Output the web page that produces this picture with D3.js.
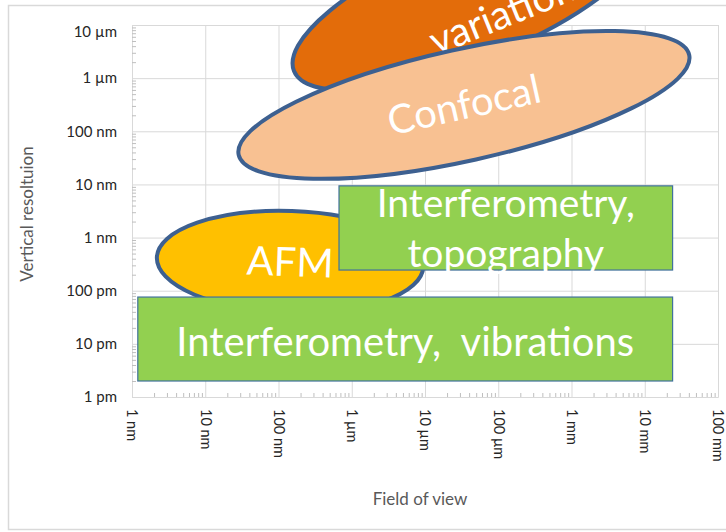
<!DOCTYPE html>
<html>
<head>
<meta charset="utf-8">
<script src="https://cdn.jsdelivr.net/npm/d3@7"></script>
<style>
  body { margin: 0; background: #fff; }
</style>
</head>
<body>
<script>
// field of view ticks, in metres
const xTicks = [1e-9, 1e-8, 1e-7, 1e-6, 1e-5, 1e-4, 1e-3, 1e-2, 1e-1]
const xTickLabels = ["1 nm", "10 nm", "100 nm", "1 µm", "10 µm", "100 µm", "1 mm", "10 mm", "100 mm"]

// vertical resolution ticks, in metres
const yTicks = [1e-12, 1e-11, 1e-10, 1e-9, 1e-8, 1e-7, 1e-6, 1e-5]
const yTickLabels = ["1 pm", "10 pm", "100 pm", "1 nm", "10 nm", "100 nm", "1 µm", "10 µm"]

// rectangular regions: field of view range, resolution range (metres)
const boxLines = [["Interferometry,", "topography"], ["Interferometry,  vibrations"]]
const boxFov = [[6.7e-7, 2.4e-2], [1.2e-9, 2.4e-2]]
const boxRes = [[2.45e-10, 9.4e-9], [2e-12, 7.6e-11]]

// elliptic regions: centre (fov, resolution) and half width / half height in decades
const blobNames = ["variation", "Confocal", "AFM"]
const blobCentre = [[4.1e-5, 2.96e-5], [3.4e-5, 3.13e-7], [1.44e-7, 3.47e-10]]
const blobHalf = [[2.59, 1.13], [3.15, 1.05], [1.82, 0.96]]

// look
const blobFill = ["#e36c0a", "#f8c192", "#ffc000"]
const blobTilt = [-22, -12.5, 2]
const outline = "#3d6090"
const gridColor = "#d9d9d9"

const width = 726
const height = 532

const x = d3.scaleLog().domain([1e-9, 1e-1]).range([132, 718])
const y = d3.scaleLog().domain([1e-12, 1e-5]).range([397, 25])

const minors = (lo, hi) => {
  let out = []
  for (let e = lo; e < hi; e++) {
    for (let k = 2; k < 10; k++) out.push(k * Math.pow(10, e))
  }
  return out
}

const svg = d3.select("body").append("svg")
  .attr("width", width)
  .attr("height", height)
  .style("font-family", "Lato, 'Open Sans', sans-serif")

// chart frame
svg.append("rect")
  .attr("x", 8.5).attr("y", 5.5)
  .attr("width", 760).attr("height", 524)
  .attr("fill", "#fff")
  .attr("stroke", gridColor)
  .attr("stroke-width", 1.5)

// y axis with gridlines
const yAxis = svg.append("g")
  .attr("transform", `translate(${x.range()[0]},0)`)
  .call(d3.axisLeft(y)
    .tickValues(yTicks)
    .tickFormat((d, i) => yTickLabels[i])
    .tickSize(-(x.range()[1] - x.range()[0]))
    .tickPadding(15))
  .attr("font-family", null)
yAxis.select(".domain").attr("stroke", gridColor)
yAxis.selectAll(".tick line").attr("stroke", gridColor)
yAxis.selectAll(".tick text")
  .attr("fill", "#262626")
  .style("font-size", "15px")
  .attr("y", d => Math.max(0, y.range()[1] + 7 - y(d)))

// x axis with gridlines
const xAxis = svg.append("g")
  .attr("transform", `translate(0,${y.range()[0]})`)
  .call(d3.axisBottom(x)
    .tickValues(xTicks)
    .tickFormat((d, i) => xTickLabels[i])
    .tickSize(-(y.range()[0] - y.range()[1])))
  .attr("font-family", null)
xAxis.select(".domain").attr("stroke", gridColor)
xAxis.selectAll(".tick line").attr("stroke", gridColor)
xAxis.selectAll(".tick text")
  .attr("fill", "#262626")
  .style("font-size", "14.5px")
  .attr("transform", "rotate(90)")
  .attr("text-anchor", "start")
  .attr("x", 12)
  .attr("y", 0)
  .attr("dy", "0.35em")

// minor ticks, inside the plot
const yMinor = svg.append("g")
  .attr("transform", `translate(${x.range()[0]},0)`)
  .call(d3.axisLeft(y).tickValues(minors(-12, -5)).tickSize(-4).tickFormat(""))
yMinor.select(".domain").remove()
yMinor.selectAll("line").attr("stroke", "#bfbfbf")

const xMinor = svg.append("g")
  .attr("transform", `translate(0,${y.range()[0]})`)
  .call(d3.axisBottom(x).tickValues(minors(-9, -1)).tickSize(-4).tickFormat(""))
xMinor.select(".domain").remove()
xMinor.selectAll("line").attr("stroke", "#bfbfbf")

// axis titles
svg.append("text")
  .attr("transform", "translate(33,214) rotate(-90)")
  .attr("text-anchor", "middle")
  .attr("fill", "#595959")
  .style("font-size", "17px")
  .text("Vertical resoltuion")

svg.append("text")
  .attr("x", 420).attr("y", 505)
  .attr("text-anchor", "middle")
  .attr("fill", "#595959")
  .style("font-size", "17px")
  .text("Field of view")

// elliptic regions
const blobs = svg.append("g")
  .selectAll("g")
  .data(blobNames)
  .enter()
  .append("g")
  .attr("transform", (d, i) => `translate(${x(blobCentre[i][0])},${y(blobCentre[i][1])}) rotate(${blobTilt[i]})`)

blobs.append("ellipse")
  .attr("rx", (d, i) => x(blobCentre[i][0] * Math.pow(10, blobHalf[i][0])) - x(blobCentre[i][0]))
  .attr("ry", (d, i) => y(blobCentre[i][1]) - y(blobCentre[i][1] * Math.pow(10, blobHalf[i][1])))
  .attr("fill", (d, i) => blobFill[i])
  .attr("stroke", outline)
  .attr("stroke-width", 4)

// the top label sits low in its shape and runs off the page, as in the source
blobs.append("text")
  .attr("x", (d, i) => i == 0 ? -52 : 0)
  .attr("y", (d, i) => i == 0 ? 39 : 14)
  .attr("text-anchor", (d, i) => i == 0 ? "start" : "middle")
  .attr("fill", "#fff")
  .style("font-size", "40px")
  .text(d => d)

// rectangular regions
const boxes = svg.append("g")
  .selectAll("g")
  .data(boxLines)
  .enter()
  .append("g")

boxes.append("rect")
  .attr("x", (d, i) => x(boxFov[i][0]))
  .attr("y", (d, i) => y(boxRes[i][1]))
  .attr("width", (d, i) => x(boxFov[i][1]) - x(boxFov[i][0]))
  .attr("height", (d, i) => y(boxRes[i][0]) - y(boxRes[i][1]))
  .attr("fill", "#92d050")
  .attr("stroke", "#41719c")
  .attr("stroke-width", 1.2)

boxes.each(function (lines, i) {
  const cx = (x(boxFov[i][0]) + x(boxFov[i][1])) / 2
  const cy = (y(boxRes[i][0]) + y(boxRes[i][1])) / 2
  const step = 50
  const top = cy - (lines.length - 1) * step / 2 + 14
  d3.select(this).selectAll("text")
    .data(lines)
    .enter()
    .append("text")
    .attr("x", cx)
    .attr("y", (d, j) => top + j * step + (lines.length > 1 ? 0 : 3))
    .attr("text-anchor", "middle")
    .attr("fill", "#fff")
    .style("font-size", lines.length > 1 ? "39px" : "40px")
    .style("white-space", "pre")
    .text(d => d)
})
</script>
</body>
</html>
